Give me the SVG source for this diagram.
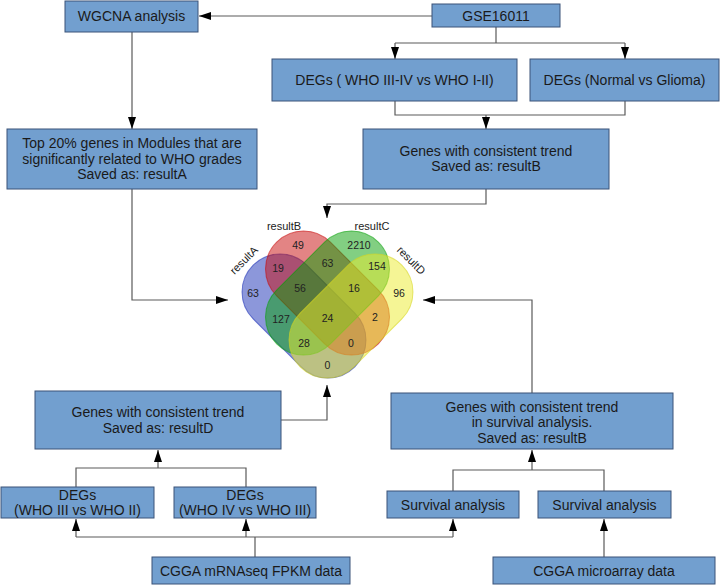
<svg xmlns="http://www.w3.org/2000/svg" width="720" height="585" viewBox="0 0 720 585">
<defs>
<style>
.box{fill:#729fcf;stroke:#3b5378;stroke-width:1}
.t{font-family:"Liberation Sans",Arial,sans-serif;font-size:14px;fill:#1a1a1a;text-anchor:middle}
.c{fill:none;stroke:#5a5a5a;stroke-width:1.2}
.n{font-family:"Liberation Sans",Arial,sans-serif;font-size:10.5px;fill:#222;text-anchor:middle}
.sl{font-family:"Liberation Sans",Arial,sans-serif;font-size:11px;fill:#222;text-anchor:middle}
.el{fill-opacity:0.5;stroke-opacity:0.6;stroke-width:1}
</style>
<path id="cap" d="M-33.9,-38 H33.9 A38,38 0 0 1 33.9,38 H-33.9 A38,38 0 0 1 -33.9,-38 Z"/>
<marker id="ah" viewBox="0 0 12 10" refX="12" refY="5" markerWidth="12" markerHeight="10" markerUnits="userSpaceOnUse" orient="auto">
<path d="M0,1 L12,5 L0,9 z" fill="#000"/>
</marker>
</defs>
<rect width="720" height="585" fill="#fff"/>

<g id="connectors">
<path class="c" d="M432,16 H199" marker-end="url(#ah)"/>
<path class="c" d="M132,32 V129" marker-end="url(#ah)"/>
<path class="c" d="M496,27 V43 M395,43 H625"/>
<path class="c" d="M395,43 V59" marker-end="url(#ah)"/>
<path class="c" d="M625,43 V59" marker-end="url(#ah)"/>
<path class="c" d="M395,101 V115 H625 V101"/>
<path class="c" d="M486,115 V129" marker-end="url(#ah)"/>
<path class="c" d="M486,189 V204 H327 V218" marker-end="url(#ah)"/>
<path class="c" d="M132,189 V300 H228" marker-end="url(#ah)"/>
<path class="c" d="M532,393 V300 H423" marker-end="url(#ah)"/>
<path class="c" d="M281,420 H327 V385" marker-end="url(#ah)"/>
<path class="c" d="M76,487 V468 H246 V487"/>
<path class="c" d="M158,468 V450" marker-end="url(#ah)"/>
<path class="c" d="M255,557 V537 M76,537 H453"/>
<path class="c" d="M76,537 V519" marker-end="url(#ah)"/>
<path class="c" d="M246,537 V519" marker-end="url(#ah)"/>
<path class="c" d="M453,537 V519" marker-end="url(#ah)"/>
<path class="c" d="M453,491 V470 H604 V491"/>
<path class="c" d="M532,470 V450" marker-end="url(#ah)"/>
<path class="c" d="M604,557 V519" marker-end="url(#ah)"/>
</g>

<g id="wgcna"><rect class="box" x="65" y="1" width="133" height="31"/><text class="t" x="131.5" y="21">WGCNA analysis</text></g>
<g id="gse"><rect class="box" x="432" y="4" width="128" height="23"/><text class="t" x="496" y="21">GSE16011</text></g>
<g id="degs1"><rect class="box" x="272" y="59" width="245" height="42"/><text class="t" x="394.5" y="85">DEGs ( WHO III-IV vs WHO I-II)</text></g>
<g id="degs2"><rect class="box" x="530" y="59" width="189" height="42"/><text class="t" x="624.5" y="85">DEGs (Normal vs Glioma)</text></g>
<g id="resultA"><rect class="box" x="7" y="129" width="250" height="60"/>
<text class="t" x="132" y="148">Top 20% genes in Modules that are</text>
<text class="t" x="132" y="164">significantly related to WHO grades</text>
<text class="t" x="132" y="179">Saved as: resultA</text></g>
<g id="resultB"><rect class="box" x="363" y="129" width="246" height="60"/>
<text class="t" x="486" y="156">Genes with consistent trend</text>
<text class="t" x="486" y="171">Saved as: resultB</text></g>
<g id="resultD"><rect class="box" x="35" y="391" width="246" height="58"/>
<text class="t" x="158" y="417">Genes with consistent trend</text>
<text class="t" x="158" y="433">Saved as: resultD</text></g>
<g id="survtrend"><rect class="box" x="391" y="393" width="282" height="56"/>
<text class="t" x="532" y="412">Genes with consistent trend</text>
<text class="t" x="532" y="427">in survival analysis.</text>
<text class="t" x="532" y="443">Saved as: resultB</text></g>
<g id="degs3"><rect class="box" x="1" y="487" width="153" height="31"/>
<text class="t" x="77.5" y="500">DEGs</text><text class="t" x="77.5" y="515">(WHO III vs WHO II)</text></g>
<g id="degs4"><rect class="box" x="174" y="487" width="142" height="31"/>
<text class="t" x="245" y="500">DEGs</text><text class="t" x="245" y="515">(WHO IV vs WHO III)</text></g>
<g id="surv1"><rect class="box" x="387" y="491" width="132" height="27"/><text class="t" x="453" y="510">Survival analysis</text></g>
<g id="surv2"><rect class="box" x="538" y="491" width="133" height="27"/><text class="t" x="604.5" y="510">Survival analysis</text></g>
<g id="cgga1"><rect class="box" x="152" y="557" width="198" height="27"/><text class="t" x="251" y="576">CGGA mRNAseq FPKM data</text></g>
<g id="cgga2"><rect class="box" x="493" y="557" width="222" height="27"/><text class="t" x="604" y="576">CGGA microarray data</text></g>

<g id="venn">
<use href="#cap" class="el" fill="#1a2fb5" stroke="#1a2fb5" transform="translate(304,316) rotate(45)"/>
<use href="#cap" class="el" fill="#c80a0a" stroke="#c80a0a" transform="translate(327.5,293) rotate(45)"/>
<use href="#cap" class="el" fill="#06a006" stroke="#06a006" transform="translate(327.5,293) rotate(-45)"/>
<use href="#cap" class="el" fill="#ebeb2b" stroke="#d6d620" transform="translate(351,316) rotate(-45)"/>
<text class="n" x="253" y="296.5">63</text>
<text class="n" x="298" y="249">49</text>
<text class="n" x="359" y="248.5">2210</text>
<text class="n" x="399" y="296.5">96</text>
<text class="n" x="278" y="271.5">19</text>
<text class="n" x="327.5" y="266.5">63</text>
<text class="n" x="377" y="270">154</text>
<text class="n" x="300" y="292">56</text>
<text class="n" x="354" y="292">16</text>
<text class="n" x="281" y="322.5">127</text>
<text class="n" x="327.5" y="321.5">24</text>
<text class="n" x="375" y="321">2</text>
<text class="n" x="304" y="346.5">28</text>
<text class="n" x="351" y="346.5">0</text>
<text class="n" x="327.5" y="369">0</text>
<text class="sl" transform="translate(246.5,263) rotate(-45)">resultA</text>
<text class="sl" x="284" y="230">resultB</text>
<text class="sl" x="372" y="230">resultC</text>
<text class="sl" transform="translate(408.5,263) rotate(45)">resultD</text>
</g>
</svg>
